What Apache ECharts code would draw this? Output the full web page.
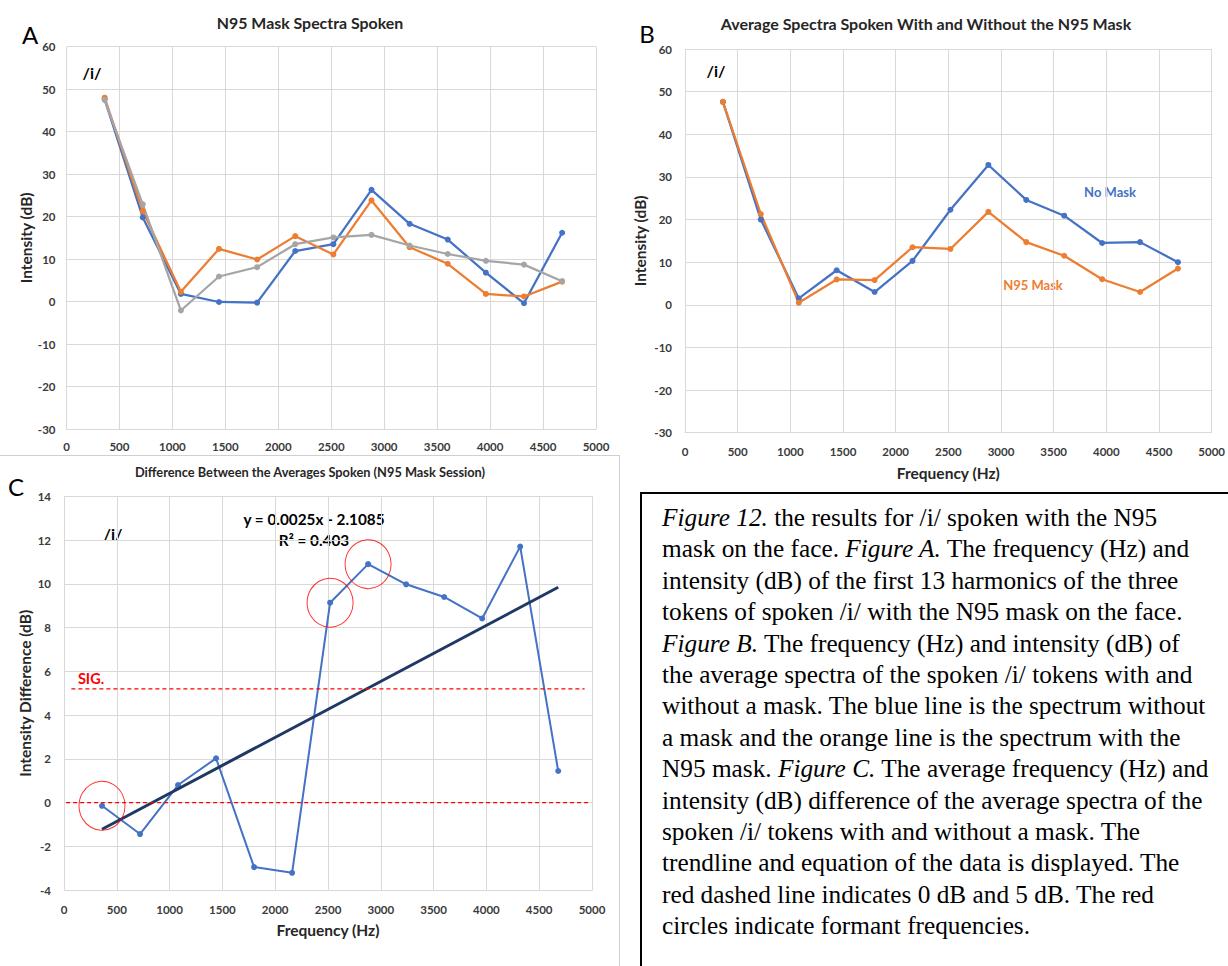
<!DOCTYPE html>
<html><head><meta charset="utf-8">
<script src="https://cdn.jsdelivr.net/npm/echarts@6/dist/echarts.min.js"></script>
<style>
html,body{margin:0;padding:0;background:#fff;}
#chart{position:absolute;left:0;top:0;width:1228px;height:966px;}
#caption{position:absolute;left:640px;top:492px;width:610px;height:490px;border:2px solid #000;box-sizing:border-box;
 font-family:"Liberation Serif","Times New Roman",serif;font-size:25.3px;line-height:31.4px;color:#000;padding:8px 0 0 20px;white-space:nowrap;}
</style></head><body>
<div id="chart"></div>
<div id="caption"></div>
<script>
// ---- data ----
const freq = [360, 720, 1080, 1440, 1800, 2160, 2520, 2880, 3240, 3600, 3960, 4320, 4680];
const token1 = [47.6, 19.8, 1.8, -0.1, -0.25, 11.9, 13.5, 26.3, 18.3, 14.6, 6.8, -0.4, 16.2];
const token2 = [48.0, 21.3, 2.3, 12.4, 9.9, 15.4, 11.1, 23.8, 12.8, 8.9, 1.8, 1.2, 4.7];
const token3 = [47.5, 22.9, -2.1, 5.9, 8.1, 13.5, 15.1, 15.7, 13.2, 11.2, 9.6, 8.7, 4.8];
const noMask = [47.6, 20.0, 1.5, 8.1, 3.0, 10.3, 22.3, 32.8, 24.6, 20.9, 14.5, 14.7, 10.0];
const n95Mask = [47.6, 21.3, 0.5, 5.95, 5.8, 13.5, 13.1, 21.8, 14.7, 11.5, 6.0, 3.0, 8.5];
const diffValues = [-0.14, -1.43, 0.81, 2.03, -2.94, -3.2, 9.14, 10.9, 9.98, 9.4, 8.42, 11.7, 1.45];
const formantIdx = [0, 6, 7];
const zeroLevel = 0;
const sigLevel = 5.2;
const refLineSpan = [20, 4970];
const sigLineSpan = [70, 4930];
const equationText = 'y = 0.0025x - 2.1085';
const r2Text = 'R² = 0.403';

const captionLines = [
 '<i>Figure 12.</i> the results for /i/ spoken with the N95',
 'mask on the face. <i>Figure A.</i> The frequency (Hz) and',
 'intensity (dB) of the first 13 harmonics of the three',
 'tokens of spoken /i/ with the N95 mask on the face.',
 '<i>Figure B.</i> The frequency (Hz) and intensity (dB) of',
 'the average spectra of the spoken /i/ tokens with and',
 'without a mask. The blue line is the spectrum without',
 'a mask and the orange line is the spectrum with the',
 'N95 mask. <i>Figure C.</i> The average frequency (Hz) and',
 'intensity (dB) difference of the average spectra of the',
 'spoken /i/ tokens with and without a mask. The',
 'trendline and equation of the data is displayed. The',
 'red dashed line indicates 0 dB and 5 dB. The red',
 'circles indicate formant frequencies.'
];
document.getElementById('caption').innerHTML = captionLines.join('<br>');

// ---- helpers ----
const FONT = 'Lato, "Open Sans", sans-serif';
const BLUE = '#4472C4', ORANGE = '#ED7D31', GRAY = '#A5A5A5';
const pairs = ys => freq.map((f, i) => [f, ys[i]]);

// linear regression of the difference data (trendline)
function linreg(xs, ys) {
  const n = xs.length;
  const mx = xs.reduce((a, b) => a + b, 0) / n;
  const my = ys.reduce((a, b) => a + b, 0) / n;
  let sxy = 0, sxx = 0;
  for (let i = 0; i < n; i++) { sxy += (xs[i] - mx) * (ys[i] - my); sxx += (xs[i] - mx) ** 2; }
  const m = sxy / sxx;
  return { m, b: my - m * mx };
}
const fit = linreg(freq, diffValues);
const trendData = [freq[0], freq[freq.length - 1]].map(x => [x, fit.m * x + fit.b]);

const labelStyle = m => ({ margin: m, color: '#3a3a3a', fontSize: 11.5, fontWeight: 'bold', fontFamily: FONT, formatter: v => String(v) });

function xAxis(gi, margin, name, nameGap) {
  return {
    type: 'value', gridIndex: gi, min: 0, max: 5000, interval: 500,
    axisLine: { show: true, onZero: false, lineStyle: { color: '#d9d9d9', width: 1 } },
    axisTick: { show: false },
    axisLabel: labelStyle(margin),
    splitLine: { show: true, lineStyle: { color: '#d9d9d9', width: 1 } },
    name: name || '', nameLocation: 'middle', nameGap: nameGap || 0,
    nameTextStyle: { color: '#262626', fontSize: 15.5, fontWeight: 'bold', fontFamily: FONT }
  };
}
function yAxis(gi, min, max, interval, margin, name, nameGap) {
  return {
    type: 'value', gridIndex: gi, min, max, interval,
    axisLine: { show: false }, axisTick: { show: false },
    axisLabel: labelStyle(margin),
    splitLine: { show: true, lineStyle: { color: '#d9d9d9', width: 1 } },
    name, nameLocation: 'middle', nameGap,
    nameTextStyle: { color: '#262626', fontSize: 15.5, fontWeight: 'bold', fontFamily: FONT }
  };
}
function lineSeries(name, ys, color, xi, width) {
  return {
    type: 'line', name, xAxisIndex: xi, yAxisIndex: xi, data: pairs(ys),
    symbol: 'circle', symbolSize: 6, showSymbol: true,
    lineStyle: { color, width: width || 2.25 }, itemStyle: { color },
    emphasis: { disabled: true }
  };
}
function txt(x, y, text, font, fill, align) {
  return { type: 'text', x, y, silent: true,
    style: { text, font, fill: fill || '#262626', align: align || 'center', verticalAlign: 'middle' } };
}

const chart = echarts.init(document.getElementById('chart'), null, { renderer: 'svg' });
chart.setOption({
  animation: false,
  backgroundColor: '#fff',
  grid: [
    { left: 66.5, top: 46.7, width: 529.5, height: 382.3 },
    { left: 685, top: 49, width: 527, height: 383.7 },
    { left: 64, top: 496.3, width: 528, height: 394 }
  ],
  xAxis: [
    xAxis(0, 11),
    xAxis(1, 13, 'Frequency (Hz)', 32),
    xAxis(2, 13, 'Frequency (Hz)', 32)
  ],
  yAxis: [
    yAxis(0, -30, 60, 10, 11, 'Intensity (dB)', 33),
    yAxis(1, -30, 60, 10, 13, 'Intensity (dB)', 37),
    yAxis(2, -4, 14, 2, 13, 'Intensity Difference (dB)', 31)
  ],
  series: [
    lineSeries('Token 1', token1, BLUE, 0),
    lineSeries('Token 2', token2, ORANGE, 0),
    lineSeries('Token 3', token3, GRAY, 0),
    lineSeries('No Mask', noMask, BLUE, 1),
    lineSeries('N95 Mask', n95Mask, ORANGE, 1),
    lineSeries('Difference', diffValues, BLUE, 2, 2),
    { type: 'line', name: 'Trendline', xAxisIndex: 2, yAxisIndex: 2, data: trendData,
      symbol: 'none', lineStyle: { color: '#203864', width: 3 }, z: 4 },
    { type: 'line', name: '0 dB', xAxisIndex: 2, yAxisIndex: 2,
      data: refLineSpan.map(x => [x, zeroLevel]), symbol: 'none',
      lineStyle: { color: '#FF0000', width: 1.25, type: [4, 3] }, z: 5 },
    { type: 'line', name: 'SIG.', xAxisIndex: 2, yAxisIndex: 2,
      data: sigLineSpan.map(x => [x, sigLevel]), symbol: 'none',
      lineStyle: { color: '#FF0000', width: 1.25, type: [4, 3] }, z: 5 },
    { type: 'scatter', name: 'Formants', xAxisIndex: 2, yAxisIndex: 2,
      data: formantIdx.map(i => [freq[i], diffValues[i]]),
      symbol: 'circle', symbolSize: [46, 49],
      itemStyle: { color: 'rgba(0,0,0,0)', borderColor: '#FF0000', borderWidth: 1 }, z: 6 }
  ],
  graphic: [
    { type: 'line', silent: true, shape: { x1: 0, y1: 455.5, x2: 620, y2: 455.5 }, style: { stroke: '#d0d0d0', lineWidth: 1 } },
    { type: 'line', silent: true, shape: { x1: 619.5, y1: 455, x2: 619.5, y2: 966 }, style: { stroke: '#d0d0d0', lineWidth: 1 } },
    txt(30, 34, 'A', '24px Lato', '#000'),
    txt(647, 33, 'B', '24px Lato', '#000'),
    txt(16, 486, 'C', '24px Lato', '#000'),
    txt(310, 22, 'N95 Mask Spectra Spoken', 'bold 15.9px Lato'),
    txt(926, 23, 'Average Spectra Spoken With and Without the N95 Mask', 'bold 16px Lato'),
    txt(310, 472, 'Difference Between the Averages Spoken (N95 Mask Session)', 'bold 12.8px Lato'),
    txt(92, 72, '/i/', 'bold 16px Lato', '#000'),
    txt(716, 70, '/i/', 'bold 16px Lato', '#000'),
    txt(113, 533, '/i/', 'bold 16px Lato', '#000'),
    txt(1110, 192, 'No Mask', 'bold 13px Lato', BLUE),
    txt(1033, 285, 'N95 Mask', 'bold 13px Lato', ORANGE),
    txt(314, 519, equationText, 'bold 15.3px Lato', '#000'),
    txt(314, 540, r2Text, 'bold 15.3px Lato', '#000'),
    txt(91, 678, 'SIG.', 'bold 14.5px Lato', '#FF0000')
  ]
});
</script>
</body></html>
